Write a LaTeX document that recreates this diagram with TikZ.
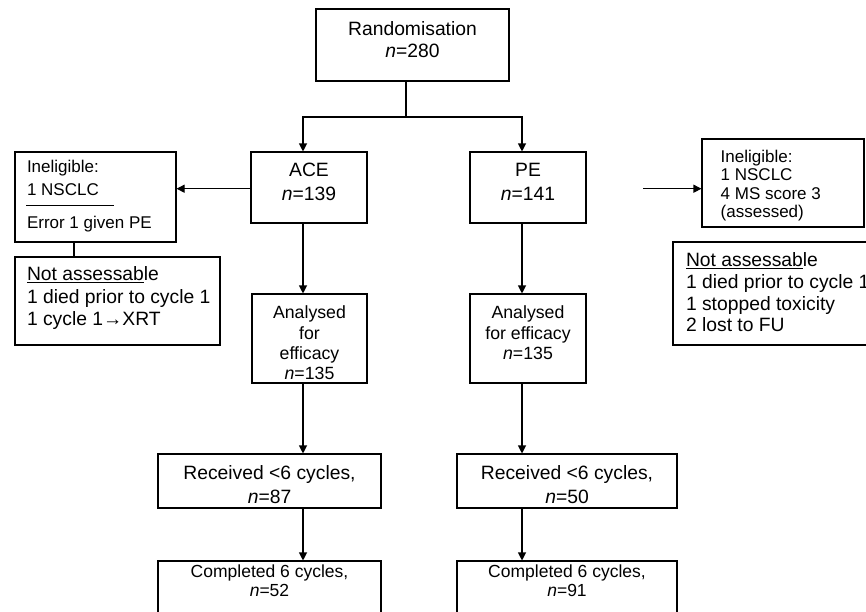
\documentclass[tikz,border=0pt]{standalone}
\usepackage{fontspec}
\setmainfont{Liberation Sans}
\usetikzlibrary{arrows.meta}
% #1 lift, #2 font size, #3 baselineskip, #4 column spec, #5 lines
\newcommand{\tx}[5]{\raisebox{#1pt}[0pt][0pt]{\fontsize{#2}{#3}\selectfont\begin{tabular}[c]{@{}#4@{}}#5\end{tabular}}}
% left aligned: #1 width, #2 lift, #3 size, #4 baselineskip, #5 lines
\newcommand{\ltx}[5]{\makebox[#1pt][l]{\tx{#2}{#3}{#4}{l}{#5}}}
\begin{document}
\begin{tikzpicture}[x=1pt,y=-1pt,
  box/.style={draw, line width=1.1pt, rectangle, inner sep=0pt},
  conn/.style={line width=1.1pt},
  arr/.style={line width=1.1pt, -{Triangle[length=8pt,width=8pt]}}]
\useasboundingbox (0,0) rectangle (866,611);

\node[box, minimum width=193pt, minimum height=72pt] (rand) at (412.5,45)
  {\tx{-2.3}{19.3}{22}{c}{Randomisation\\\textit{n}=280}};
\node[box, minimum width=116pt, minimum height=71pt] (ace) at (309,187.5)
  {\tx{-1.3}{19.3}{23.5}{c}{ACE\\\textit{n}=139}};
\node[box, minimum width=116pt, minimum height=71pt] (pe) at (528,187.5)
  {\tx{-1.3}{19.3}{23.5}{c}{PE\\\textit{n}=141}};
\node[box, minimum width=161pt, minimum height=90pt] (inelL) at (95.5,197)
  {\ltx{137}{-2.9}{17}{23.5}{Ineligible:\\1 NSCLC\\[9.3pt]Error 1 given PE}};
\node[box, minimum width=205pt, minimum height=88pt] (naL) at (117.5,301)
  {\ltx{181}{-3.1}{19.3}{22.5}{\underline{Not assessab}le\\1 died prior to cycle 1\\1 cycle 1→XRT}};
\node[box, minimum width=162pt, minimum height=88pt] (inelR) at (783,183)
  {\ltx{124.6}{-7.4}{17}{18.5}{Ineligible:\\1 NSCLC\\4 MS score 3\\(assessed)}};
\node[box, minimum width=217pt, minimum height=103pt] (naR) at (781.5,293.5)
  {\ltx{191}{-6.7}{19.3}{21.7}{\underline{Not assessab}le\\1 died prior to cycle 1\\1 stopped toxicity\\2 lost to FU}};
\node[box, minimum width=115pt, minimum height=89pt] (anA) at (309.5,338.5)
  {\tx{-11}{17.7}{20.3}{c}{Analysed\\for\\efficacy\\\textit{n}=135}};
\node[box, minimum width=116pt, minimum height=89pt] (anP) at (528,338.5)
  {\tx{-1}{17.7}{20.5}{c}{Analysed\\for efficacy\\\textit{n}=135}};
\node[box, minimum width=223pt, minimum height=54pt] (recA) at (269.5,481)
  {\tx{-11.1}{19.3}{23.4}{c}{Received <6 cycles,\\\textit{n}=87}};
\node[box, minimum width=220pt, minimum height=54pt] (recP) at (567,481)
  {\tx{-11.1}{19.3}{23.4}{c}{Received <6 cycles,\\\textit{n}=50}};
\node[box, minimum width=223pt, minimum height=59pt] (comA) at (269.5,590.5)
  {\tx{3.3}{17.5}{19}{c}{Completed 6 cycles,\\\textit{n}=52}};
\node[box, minimum width=220pt, minimum height=59pt] (comP) at (567,590.5)
  {\tx{3.3}{17.5}{19}{c}{Completed 6 cycles,\\\textit{n}=91}};

\coordinate (split) at (406,117);
\coordinate (colA) at (303,117);
\coordinate (colP) at (522,117);
\coordinate (colL) at (74,250);
\coordinate (rin) at (643,188.7);

\draw[conn] (rand.south -| split) -- (split);
\draw[arr] (split) -- (colA) -- (colA |- ace.north);
\draw[arr] (split) -- (colP) -- (colP |- pe.north);
\draw[arr] (colA |- ace.south) -- (colA |- anA.north);
\draw[arr] (colA |- anA.south) -- (colA |- recA.north);
\draw[arr] (colA |- recA.south) -- (colA |- comA.north);
\draw[arr] (colP |- pe.south) -- (colP |- anP.north);
\draw[arr] (colP |- anP.south) -- (colP |- recP.north);
\draw[arr] (colP |- recP.south) -- (colP |- comP.north);
\draw[arr] (rin -| ace.west) -- (rin -| inelL.east);
\draw[conn] (colL |- inelL.south) -- (colL |- naL.north);
\draw[arr] (rin) -- (rin -| inelR.west);
\draw[line width=0.8pt] ([xshift=12pt,yshift=-8.7pt]inelL.west) -- ++(88,0);
\end{tikzpicture}
\end{document}
